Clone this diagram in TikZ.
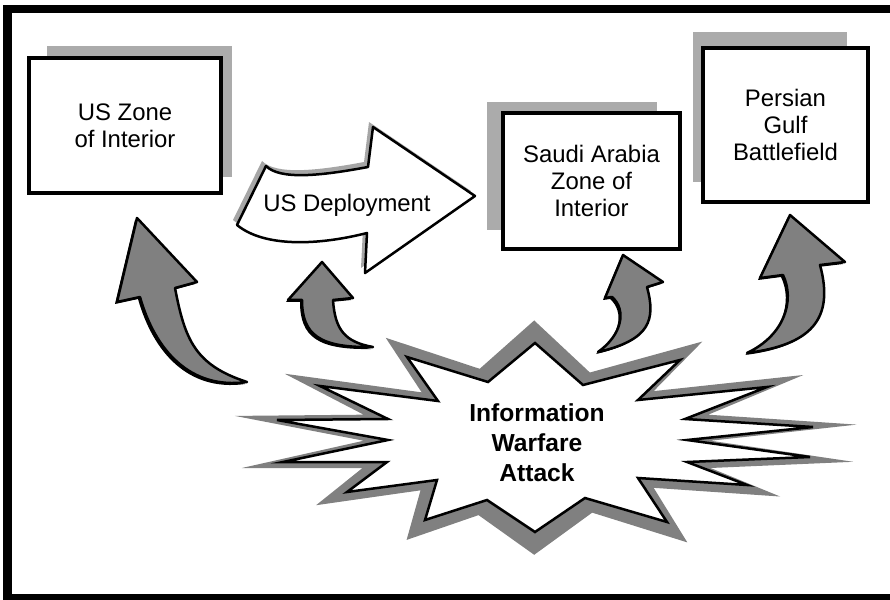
\documentclass[tikz,border=0pt]{standalone}
\usepackage{fontspec}
\setmainfont{Liberation Sans}
\usetikzlibrary{calc, positioning, backgrounds}
\definecolor{iwGrey}{HTML}{808080}
\definecolor{iwShade}{HTML}{ABABAB}
\definecolor{iwPale}{HTML}{A6A6A6}
\tikzset{
  frameline/.style = {line width=1.6mm, black},
  zone/.style      = {draw=black, fill=white, line width=0.65mm, outer sep=0pt,
                      inner sep=0pt, align=center, font=\fontsize{13.6}{15.4}\selectfont},
  boxshade/.style  = {fill=iwShade},
  deploy/.style    = {fill=white, draw=black, line width=0.5mm, line join=round},
  hitarrow/.style  = {fill=iwGrey, draw=black, line width=0.5mm, line join=round},
  hitedge/.style   = {fill=black, shift={(-2,2)}},
  burst/.style     = {fill=white, draw=black, line width=0.5mm},
  lbl/.style       = {align=center, font=\fontsize{13.6}{15.4}\selectfont},
  blbl/.style      = {align=center, font=\fontsize{14}{17}\selectfont\bfseries},
}
% outlines, in pixel units (y grows downwards)
\newcommand\deployline{(266,166) .. controls (280,180) and (320,176) .. (368,167)
  -- (373,127) -- (475,196) -- (365,273) -- (367,233)
  .. controls (320,245) and (265,248) .. (237,225) -- cycle}
\newcommand\burstline{(535,343) -- (583,385) -- (680,360) -- (638,400) -- (767,387)
  -- (685,419) -- (813,427) -- (687,440) -- (810,457) -- (687,462) -- (747,485)
  -- (638,478) -- (667,522) -- (585,498) -- (535,532) -- (487,500) -- (425,520)
  -- (437,480) -- (347,492) -- (387,462) -- (283,462) -- (388,440) -- (277,420)
  -- (388,419) -- (320,386) -- (438,401) -- (407,357) -- (488,382) -- cycle}
\newcommand\hitA{(137,218) -- (197,282) -- (175,288)
  .. controls (185,340) and (195,365) .. (247,382)
  .. controls (190,390) and (155,350) .. (140,297) -- (117,302) -- cycle}
\newcommand\hitB{(322,262) -- (353,298) -- (333,300)
  .. controls (335,330) and (345,342) .. (373,347)
  .. controls (320,348) and (302,335) .. (302,300) -- (288,300) -- cycle}
\newcommand\hitC{(623,255) -- (663,282) -- (647,287)
  .. controls (656,320) and (650,340) .. (598,352)
  .. controls (622,335) and (627,310) .. (612,297) -- (605,298) -- cycle}
\newcommand\hitD{(790,215) -- (845,262) -- (820,265)
  .. controls (835,320) and (810,345) .. (747,353)
  .. controls (785,335) and (795,300) .. (783,275) -- (760,278) -- cycle}

\begin{document}
\begin{tikzpicture}[x=0.2mm, y=-0.2mm]
  \useasboundingbox (0,0) rectangle (890,600);
  % frame, open on the right
  \draw[frameline] (900,9) -- (7.5,9) -- (7.5,597.5) -- (900,597.5);

  % the three zones
  \node[zone, minimum width=38.4mm, minimum height=27mm] (usz) at (125,125.5) {US Zone\\of Interior};
  \node[zone, minimum width=35.4mm, minimum height=27.2mm] (saz) at (591.5,181) {Saudi Arabia\\Zone of\\Interior};
  \node[zone, minimum width=33mm, minimum height=30.8mm] (pgb) at (785.5,125) {Persian\\Gulf\\Battlefield};
  \begin{scope}[on background layer]
    \fill[boxshade] ($(usz.south west)+(18,-16)$) rectangle ($(usz.north east)+(11,-12)$);
    \fill[boxshade] ($(saz.south west)+(-16,-19)$) rectangle ($(saz.north east)+(-23,-11)$);
    \fill[boxshade] ($(pgb.south west)+(-10,-20)$) rectangle ($(pgb.north east)+(-21,-16)$);
  \end{scope}

  % deployment arrow
  \fill[iwPale, shift={(-4,-5)}] \deployline;
  \filldraw[deploy] \deployline;
  \node[lbl] (dep) at (347,205) {US Deployment};

  % the attack burst, grey rim behind
  \fill[iwGrey, shift={(540,437)}, xscale=1.16, yscale=1.24, shift={(-540,-437)}] \burstline;
  \filldraw[burst] \burstline;
  \node[blbl] (iwa) at (537,443) {Information\\Warfare\\Attack};

  % arrows hitting each stage
  \fill[hitedge] \hitA; \filldraw[hitarrow] \hitA;
  \fill[hitedge] \hitB; \filldraw[hitarrow] \hitB;
  \fill[hitedge] \hitC; \filldraw[hitarrow] \hitC;
  \fill[hitedge] \hitD; \filldraw[hitarrow] \hitD;
\end{tikzpicture}
\end{document}
